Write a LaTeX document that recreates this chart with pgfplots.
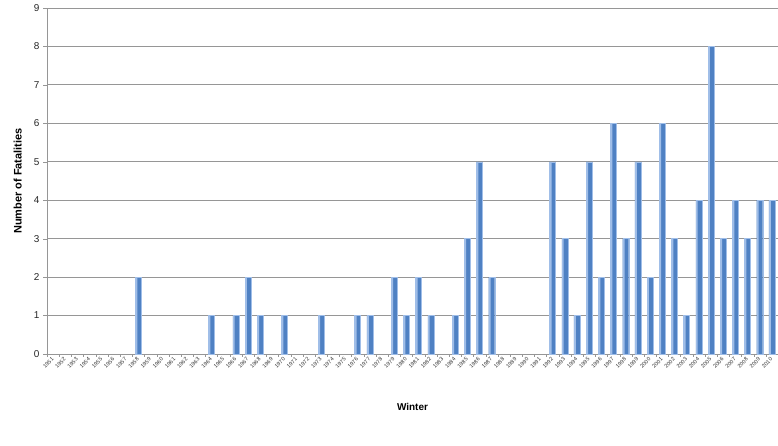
\documentclass[border=0pt]{standalone}
\usepackage{pgfplots}
\pgfplotsset{compat=1.18}
\usepackage{fontspec}
\setmainfont{Liberation Sans}
\definecolor{barlight}{RGB}{160,190,232}
\definecolor{barmid}{RGB}{79,129,195}
\definecolor{gridgray}{RGB}{150,150,150}
\pgfplotstableread{
year val
1958 2
1964 1
1966 1
1967 2
1968 1
1970 1
1973 1
1976 1
1977 1
1979 2
1980 1
1981 2
1982 1
1984 1
1985 3
1986 5
1987 2
1992 5
1993 3
1994 1
1995 5
1996 2
1997 6
1998 3
1999 5
2000 2
2001 6
2002 3
2003 1
2004 4
2005 8
2006 3
2007 4
2008 3
2009 4
2010 4
}\fatal
\begin{document}
\begin{tikzpicture}[x=1bp,y=1bp]
\useasboundingbox (0,0) rectangle (778,446);
\begin{axis}[
  at={(47bp,92bp)}, anchor=south west,
  scale only axis, width=731bp, height=346bp,
  xmin=1950.5, xmax=2010.5, ymin=0, ymax=9,
  axis lines*=left,
  axis line style={gridgray, line width=0.8pt},
  ytick={0,1,2,3,4,5,6,7,8,9},
  ymajorgrids, grid style={gridgray, line width=0.8pt},
  xtick={1951,1952,1953,1954,1955,1956,1957,1958,1959,1960,1961,1962,1963,1964,1965,1966,1967,1968,1969,1970,1971,1972,1973,1974,1975,1976,1977,1978,1979,1980,1981,1982,1983,1984,1985,1986,1987,1988,1989,1990,1991,1992,1993,1994,1995,1996,1997,1998,1999,2000,2001,2002,2003,2004,2005,2006,2007,2008,2009,2010},
  xticklabels={1951,1952,1953,1954,1955,1956,1957,1958,1959,1960,1961,1962,1963,1964,1965,1966,1967,1968,1969,1970,1971,1972,1973,1974,1975,1976,1977,1978,1979,1980,1981,1982,1983,1984,1985,1986,1987,1988,1989,1990,1991,1992,1993,1994,1995,1996,1997,1998,1999,2000,2001,2002,2003,2004,2005,2006,2007,2008,2009,2010},
  minor xtick={1950.5,1951.5,1952.5,1953.5,1954.5,1955.5,1956.5,1957.5,1958.5,1959.5,1960.5,1961.5,1962.5,1963.5,1964.5,1965.5,1966.5,1967.5,1968.5,1969.5,1970.5,1971.5,1972.5,1973.5,1974.5,1975.5,1976.5,1977.5,1978.5,1979.5,1980.5,1981.5,1982.5,1983.5,1984.5,1985.5,1986.5,1987.5,1988.5,1989.5,1990.5,1991.5,1992.5,1993.5,1994.5,1995.5,1996.5,1997.5,1998.5,1999.5,2000.5,2001.5,2002.5,2003.5,2004.5,2005.5,2006.5,2007.5,2008.5,2009.5,2010.5},
  major x tick style={draw=none},
  minor x tick style={gridgray},
  minor tick length=3bp,
  major tick length=4bp,
  tick align=outside,
  y tick style={gridgray},
  /pgf/number format/assume math mode=true,
  xticklabel style={rotate=45, anchor=east, font=\fontsize{5.5}{6}\selectfont, inner sep=0.5pt, text=black!80},
  yticklabel style={font=\fontsize{10}{12}\selectfont, text=black!85},
  xlabel={Winter},
  ylabel={Number of Fatalities},
  xlabel style={at={(axis description cs:0.5,-0.153)}, anchor=center, font=\fontsize{10}{12}\selectfont\bfseries},
  ylabel style={at={(axis description cs:-0.04,0.5)}, anchor=center, font=\fontsize{11}{13}\selectfont\bfseries},
  clip=false,
]
\addplot[ybar, bar width=6bp, draw=barlight, line width=0.4pt, fill=barmid] table[x=year, y=val] {\fatal};
\addplot[ybar, bar width=1.6bp, bar shift=-1.9bp, draw=none, fill=barlight] table[x=year, y=val] {\fatal};
\end{axis}
\end{tikzpicture}
\end{document}
